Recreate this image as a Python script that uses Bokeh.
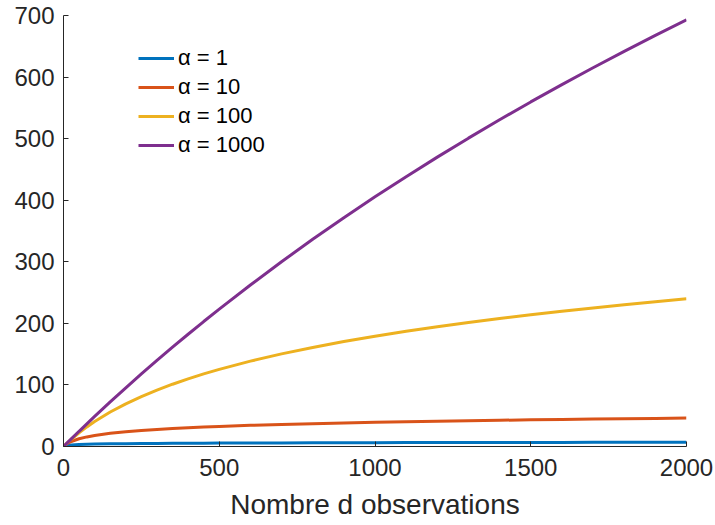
from bokeh.plotting import figure
from bokeh.models import Legend, LegendItem, Range1d, FixedTicker
from bokeh.embed import file_html
from bokeh.resources import INLINE

# Number of observations
n_obs = [0, 5, 10, 25, 50, 75, 100, 150, 200, 250, 300, 350, 400, 450, 500, 600,
         700, 800, 900, 1000, 1100, 1200, 1300, 1400, 1500, 1600, 1700, 1800,
         1900, 2000]

# Expected number of clusters
alpha_1 = [0, 1.25, 1.79, 2.60, 3.26, 3.65, 3.93, 4.33, 4.62, 4.84, 5.02, 5.17,
           5.30, 5.42, 5.53, 5.71, 5.86, 5.99, 6.11, 6.22, 6.31, 6.40, 6.48, 6.55,
           6.62, 6.69, 6.75, 6.80, 6.86, 6.91]
alpha_10 = [0, 2.23, 4.05, 8.11, 12.53, 15.58, 17.92, 21.40, 23.98, 26.03, 27.73,
            29.18, 30.45, 31.57, 32.58, 34.34, 35.84, 37.14, 38.29, 39.32, 40.25,
            41.11, 41.90, 42.63, 43.31, 43.94, 44.54, 45.11, 45.64, 46.15]
alpha_100 = [0, 2.47, 4.88, 11.78, 22.31, 31.85, 40.55, 55.96, 69.31, 81.09, 91.63,
             101.16, 109.86, 117.87, 125.28, 138.63, 150.41, 160.94, 170.47,
             179.18, 187.18, 194.59, 201.49, 207.94, 214.01, 219.72, 225.13,
             230.26, 235.14, 239.79]
alpha_1000 = [0, 2.50, 4.99, 12.42, 24.69, 36.81, 48.79, 72.32, 95.31, 117.78,
              139.76, 161.27, 182.32, 202.94, 223.14, 262.36, 300.10, 336.47,
              371.56, 405.47, 438.25, 470.00, 500.78, 530.63, 559.62, 587.79,
              615.19, 641.85, 667.83, 693.15]

series_labels = ["α = 1", "α = 10", "α = 100", "α = 1000"]
series_colors = ["#0072BD", "#D95319", "#EDB120", "#7E2F8E"]
x_ticks = [0, 500, 1000, 1500, 2000]
y_ticks = [0, 100, 200, 300, 400, 500, 600, 700]

FONT = "Liberation Sans"
AX = "#262626"

p = figure(width=715, height=525, output_backend="svg", toolbar_location=None,
           x_range=Range1d(0, 2000), y_range=Range1d(0, 700),
           min_border_left=63, min_border_right=29, min_border_top=15,
           min_border_bottom=79)
p.xgrid.visible = False
p.ygrid.visible = False
p.outline_line_color = None

renderers = []
for ys, col in zip([alpha_1, alpha_10, alpha_100, alpha_1000], series_colors):
    r = p.line(n_obs, ys, line_color=col, line_width=3)
    renderers.append(r)

for ax in (p.xaxis[0], p.yaxis[0]):
    ax.axis_line_color = AX
    ax.axis_line_width = 1
    ax.major_tick_line_color = AX
    ax.major_tick_in = 5
    ax.major_tick_out = 0
    ax.minor_tick_line_color = None
    ax.major_label_text_font = FONT
    ax.major_label_text_font_size = "24px"
    ax.major_label_text_color = AX

p.xaxis.major_label_standoff = 12
p.yaxis.major_label_standoff = 9
p.xaxis.ticker = FixedTicker(ticks=x_ticks)
p.yaxis.ticker = FixedTicker(ticks=y_ticks)
p.xaxis.axis_label = "Nombre d observations"
p.xaxis.axis_label_text_font = FONT
p.xaxis.axis_label_text_font_size = "28px"
p.xaxis.axis_label_text_font_style = "normal"
p.xaxis.axis_label_text_color = AX
p.xaxis.axis_label_standoff = 10

legend = Legend(items=[LegendItem(label=l, renderers=[r]) for l, r in zip(series_labels, renderers)],
                location=(75, 288), padding=0, spacing=3, glyph_width=36, glyph_height=20,
                label_height=20, label_standoff=4, border_line_alpha=0,
                background_fill_alpha=0, label_text_font=FONT,
                label_text_font_size="22px", label_text_color="#000000")
p.add_layout(legend, "center")

open("out.html", "w").write(file_html(p, INLINE))
